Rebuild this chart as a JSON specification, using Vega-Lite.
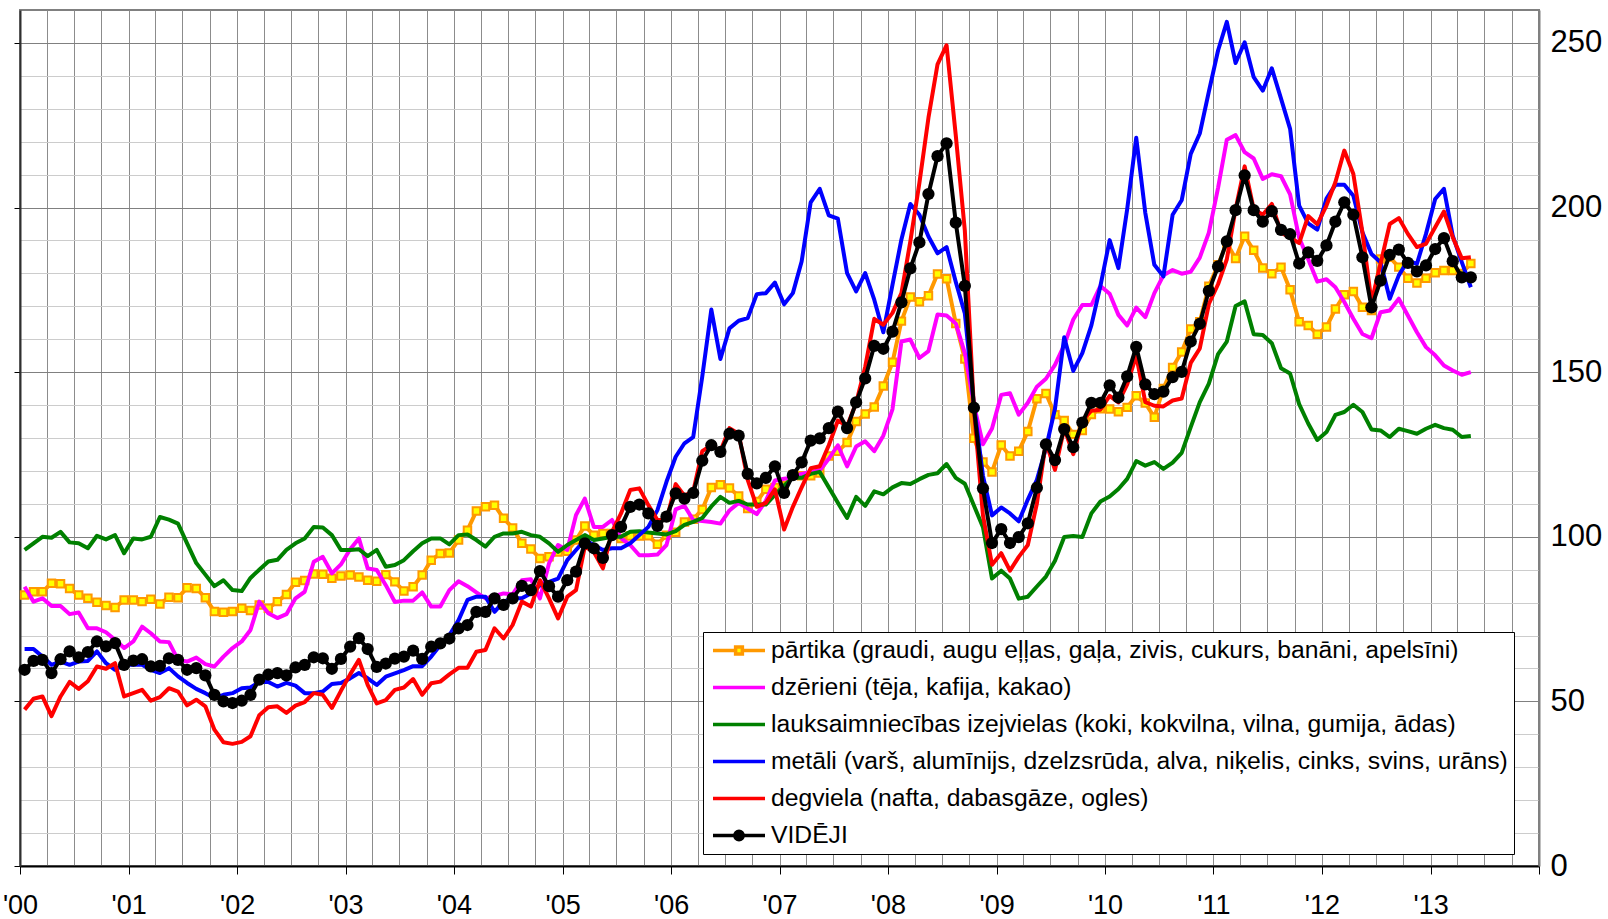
{
"$schema":"https://vega.github.io/schema/vega-lite/v6.json",
"width":1519,"height":856,
"autosize":{"type":"none"},
"padding":{"left":20,"top":10,"right":69,"bottom":53},
"background":"white",
"config":{"view":{"stroke":"#808080","strokeWidth":2},"font":"Liberation Sans"},
"data":{"values":[
{"t":"2000-01","k":"p","v":82.3},{"t":"2000-02","k":"p","v":83.3},{"t":"2000-03","k":"p","v":83.3},{"t":"2000-04","k":"p","v":85.9},{"t":"2000-05","k":"p","v":85.7},{"t":"2000-06","k":"p","v":84.3},{"t":"2000-07","k":"p","v":82.3},{"t":"2000-08","k":"p","v":81.3},{"t":"2000-09","k":"p","v":80.1},{"t":"2000-10","k":"p","v":79.1},{"t":"2000-11","k":"p","v":78.5},{"t":"2000-12","k":"p","v":80.8},
{"t":"2001-01","k":"p","v":80.8},{"t":"2001-02","k":"p","v":80.3},{"t":"2001-03","k":"p","v":81},{"t":"2001-04","k":"p","v":79.6},{"t":"2001-05","k":"p","v":81.6},{"t":"2001-06","k":"p","v":81.5},{"t":"2001-07","k":"p","v":84.5},{"t":"2001-08","k":"p","v":84.3},{"t":"2001-09","k":"p","v":81.5},{"t":"2001-10","k":"p","v":77.3},{"t":"2001-11","k":"p","v":77.1},{"t":"2001-12","k":"p","v":77.3},
{"t":"2002-01","k":"p","v":78.3},{"t":"2002-02","k":"p","v":77.6},{"t":"2002-03","k":"p","v":79.3},{"t":"2002-04","k":"p","v":78.3},{"t":"2002-05","k":"p","v":80.3},{"t":"2002-06","k":"p","v":82.5},{"t":"2002-07","k":"p","v":86.2},{"t":"2002-08","k":"p","v":86.7},{"t":"2002-09","k":"p","v":88.7},{"t":"2002-10","k":"p","v":88.6},{"t":"2002-11","k":"p","v":87.4},{"t":"2002-12","k":"p","v":88.1},
{"t":"2003-01","k":"p","v":88.4},{"t":"2003-02","k":"p","v":87.8},{"t":"2003-03","k":"p","v":86.8},{"t":"2003-04","k":"p","v":86.5},{"t":"2003-05","k":"p","v":88.5},{"t":"2003-06","k":"p","v":86.3},{"t":"2003-07","k":"p","v":83.5},{"t":"2003-08","k":"p","v":84.8},{"t":"2003-09","k":"p","v":88.4},{"t":"2003-10","k":"p","v":92.9},{"t":"2003-11","k":"p","v":94.9},{"t":"2003-12","k":"p","v":95.1},
{"t":"2004-01","k":"p","v":99},{"t":"2004-02","k":"p","v":102},{"t":"2004-03","k":"p","v":107.8},{"t":"2004-04","k":"p","v":109.1},{"t":"2004-05","k":"p","v":109.6},{"t":"2004-06","k":"p","v":105.6},{"t":"2004-07","k":"p","v":102.7},{"t":"2004-08","k":"p","v":98},{"t":"2004-09","k":"p","v":96.3},{"t":"2004-10","k":"p","v":93.4},{"t":"2004-11","k":"p","v":93.9},{"t":"2004-12","k":"p","v":95.4},
{"t":"2005-01","k":"p","v":95.6},{"t":"2005-02","k":"p","v":99},{"t":"2005-03","k":"p","v":103.3},{"t":"2005-04","k":"p","v":100.5},{"t":"2005-05","k":"p","v":101},{"t":"2005-06","k":"p","v":101},{"t":"2005-07","k":"p","v":99.5},{"t":"2005-08","k":"p","v":100.2},{"t":"2005-09","k":"p","v":100.2},{"t":"2005-10","k":"p","v":100.3},{"t":"2005-11","k":"p","v":97.7},{"t":"2005-12","k":"p","v":100.5},
{"t":"2006-01","k":"p","v":101.4},{"t":"2006-02","k":"p","v":104.5},{"t":"2006-03","k":"p","v":105.3},{"t":"2006-04","k":"p","v":108.3},{"t":"2006-05","k":"p","v":115},{"t":"2006-06","k":"p","v":115.8},{"t":"2006-07","k":"p","v":114.8},{"t":"2006-08","k":"p","v":112.4},{"t":"2006-09","k":"p","v":108.6},{"t":"2006-10","k":"p","v":110.7},{"t":"2006-11","k":"p","v":114.4},{"t":"2006-12","k":"p","v":115},
{"t":"2007-01","k":"p","v":115.6},{"t":"2007-02","k":"p","v":118.7},{"t":"2007-03","k":"p","v":118.5},{"t":"2007-04","k":"p","v":118.5},{"t":"2007-05","k":"p","v":119.4},{"t":"2007-06","k":"p","v":124.5},{"t":"2007-07","k":"p","v":126},{"t":"2007-08","k":"p","v":128.6},{"t":"2007-09","k":"p","v":135},{"t":"2007-10","k":"p","v":137.3},{"t":"2007-11","k":"p","v":139.4},{"t":"2007-12","k":"p","v":145.8},
{"t":"2008-01","k":"p","v":153},{"t":"2008-02","k":"p","v":165.5},{"t":"2008-03","k":"p","v":172.8},{"t":"2008-04","k":"p","v":171.4},{"t":"2008-05","k":"p","v":173.2},{"t":"2008-06","k":"p","v":179.8},{"t":"2008-07","k":"p","v":178.4},{"t":"2008-08","k":"p","v":164.8},{"t":"2008-09","k":"p","v":154},{"t":"2008-10","k":"p","v":129.9},{"t":"2008-11","k":"p","v":122.7},{"t":"2008-12","k":"p","v":119.7},
{"t":"2009-01","k":"p","v":127.9},{"t":"2009-02","k":"p","v":124.5},{"t":"2009-03","k":"p","v":126},{"t":"2009-04","k":"p","v":132},{"t":"2009-05","k":"p","v":141.9},{"t":"2009-06","k":"p","v":143.5},{"t":"2009-07","k":"p","v":137.1},{"t":"2009-08","k":"p","v":135.3},{"t":"2009-09","k":"p","v":131.1},{"t":"2009-10","k":"p","v":132.3},{"t":"2009-11","k":"p","v":137.1},{"t":"2009-12","k":"p","v":138.9},
{"t":"2010-01","k":"p","v":138.8},{"t":"2010-02","k":"p","v":138},{"t":"2010-03","k":"p","v":139.3},{"t":"2010-04","k":"p","v":142.8},{"t":"2010-05","k":"p","v":140.6},{"t":"2010-06","k":"p","v":136.3},{"t":"2010-07","k":"p","v":145},{"t":"2010-08","k":"p","v":151.4},{"t":"2010-09","k":"p","v":156.1},{"t":"2010-10","k":"p","v":163.1},{"t":"2010-11","k":"p","v":165.3},{"t":"2010-12","k":"p","v":176.1},
{"t":"2011-01","k":"p","v":182.6},{"t":"2011-02","k":"p","v":189.2},{"t":"2011-03","k":"p","v":184.5},{"t":"2011-04","k":"p","v":191.3},{"t":"2011-05","k":"p","v":187},{"t":"2011-06","k":"p","v":181.6},{"t":"2011-07","k":"p","v":179.9},{"t":"2011-08","k":"p","v":181.9},{"t":"2011-09","k":"p","v":175},{"t":"2011-10","k":"p","v":165.3},{"t":"2011-11","k":"p","v":164.2},{"t":"2011-12","k":"p","v":161.5},
{"t":"2012-01","k":"p","v":163.7},{"t":"2012-02","k":"p","v":169.2},{"t":"2012-03","k":"p","v":173.5},{"t":"2012-04","k":"p","v":174.5},{"t":"2012-05","k":"p","v":169.7},{"t":"2012-06","k":"p","v":168.7},{"t":"2012-07","k":"p","v":184.4},{"t":"2012-08","k":"p","v":184.9},{"t":"2012-09","k":"p","v":181.9},{"t":"2012-10","k":"p","v":178.5},{"t":"2012-11","k":"p","v":177.1},{"t":"2012-12","k":"p","v":178.5},
{"t":"2013-01","k":"p","v":180.2},{"t":"2013-02","k":"p","v":180.9},{"t":"2013-03","k":"p","v":180.9},{"t":"2013-04","k":"p","v":180},{"t":"2013-05","k":"p","v":183},
{"t":"2000-01","k":"dz","v":84.8},{"t":"2000-02","k":"dz","v":80.3},{"t":"2000-03","k":"dz","v":81.3},{"t":"2000-04","k":"dz","v":79},{"t":"2000-05","k":"dz","v":79},{"t":"2000-06","k":"dz","v":76.5},{"t":"2000-07","k":"dz","v":77},{"t":"2000-08","k":"dz","v":72.2},{"t":"2000-09","k":"dz","v":72.2},{"t":"2000-10","k":"dz","v":71},{"t":"2000-11","k":"dz","v":68.7},{"t":"2000-12","k":"dz","v":66.2},
{"t":"2001-01","k":"dz","v":68.2},{"t":"2001-02","k":"dz","v":72.7},{"t":"2001-03","k":"dz","v":70.7},{"t":"2001-04","k":"dz","v":68.2},{"t":"2001-05","k":"dz","v":68},{"t":"2001-06","k":"dz","v":62.6},{"t":"2001-07","k":"dz","v":62.1},{"t":"2001-08","k":"dz","v":63.3},{"t":"2001-09","k":"dz","v":61.3},{"t":"2001-10","k":"dz","v":60.6},{"t":"2001-11","k":"dz","v":63.6},{"t":"2001-12","k":"dz","v":66.2},
{"t":"2002-01","k":"dz","v":68.2},{"t":"2002-02","k":"dz","v":71.7},{"t":"2002-03","k":"dz","v":80.3},{"t":"2002-04","k":"dz","v":76.8},{"t":"2002-05","k":"dz","v":75.3},{"t":"2002-06","k":"dz","v":76.5},{"t":"2002-07","k":"dz","v":81.3},{"t":"2002-08","k":"dz","v":83.3},{"t":"2002-09","k":"dz","v":92.4},{"t":"2002-10","k":"dz","v":93.9},{"t":"2002-11","k":"dz","v":88.9},{"t":"2002-12","k":"dz","v":91.6},
{"t":"2003-01","k":"dz","v":96.2},{"t":"2003-02","k":"dz","v":99.5},{"t":"2003-03","k":"dz","v":90.4},{"t":"2003-04","k":"dz","v":89.9},{"t":"2003-05","k":"dz","v":85.3},{"t":"2003-06","k":"dz","v":80.2},{"t":"2003-07","k":"dz","v":80.6},{"t":"2003-08","k":"dz","v":80.6},{"t":"2003-09","k":"dz","v":83.1},{"t":"2003-10","k":"dz","v":78.8},{"t":"2003-11","k":"dz","v":78.8},{"t":"2003-12","k":"dz","v":83.8},
{"t":"2004-01","k":"dz","v":86.5},{"t":"2004-02","k":"dz","v":85},{"t":"2004-03","k":"dz","v":83.1},{"t":"2004-04","k":"dz","v":81.3},{"t":"2004-05","k":"dz","v":82},{"t":"2004-06","k":"dz","v":82.8},{"t":"2004-07","k":"dz","v":82.5},{"t":"2004-08","k":"dz","v":86.8},{"t":"2004-09","k":"dz","v":87.1},{"t":"2004-10","k":"dz","v":81.3},{"t":"2004-11","k":"dz","v":91.9},{"t":"2004-12","k":"dz","v":97.5},
{"t":"2005-01","k":"dz","v":96},{"t":"2005-02","k":"dz","v":106.6},{"t":"2005-03","k":"dz","v":111.6},{"t":"2005-04","k":"dz","v":103},{"t":"2005-05","k":"dz","v":103},{"t":"2005-06","k":"dz","v":105.1},{"t":"2005-07","k":"dz","v":99.5},{"t":"2005-08","k":"dz","v":97.5},{"t":"2005-09","k":"dz","v":94.4},{"t":"2005-10","k":"dz","v":94.4},{"t":"2005-11","k":"dz","v":94.6},{"t":"2005-12","k":"dz","v":97.5},
{"t":"2006-01","k":"dz","v":108.3},{"t":"2006-02","k":"dz","v":109.4},{"t":"2006-03","k":"dz","v":105.1},{"t":"2006-04","k":"dz","v":104.8},{"t":"2006-05","k":"dz","v":104.5},{"t":"2006-06","k":"dz","v":104},{"t":"2006-07","k":"dz","v":108},{"t":"2006-08","k":"dz","v":110.3},{"t":"2006-09","k":"dz","v":108.6},{"t":"2006-10","k":"dz","v":106.9},{"t":"2006-11","k":"dz","v":110.9},{"t":"2006-12","k":"dz","v":117.1},
{"t":"2007-01","k":"dz","v":117.6},{"t":"2007-02","k":"dz","v":117.9},{"t":"2007-03","k":"dz","v":119.1},{"t":"2007-04","k":"dz","v":119.7},{"t":"2007-05","k":"dz","v":120.2},{"t":"2007-06","k":"dz","v":123.7},{"t":"2007-07","k":"dz","v":127.8},{"t":"2007-08","k":"dz","v":121.4},{"t":"2007-09","k":"dz","v":127.4},{"t":"2007-10","k":"dz","v":129},{"t":"2007-11","k":"dz","v":126},{"t":"2007-12","k":"dz","v":130.7},
{"t":"2008-01","k":"dz","v":138.8},{"t":"2008-02","k":"dz","v":159.3},{"t":"2008-03","k":"dz","v":159.9},{"t":"2008-04","k":"dz","v":154.3},{"t":"2008-05","k":"dz","v":156.4},{"t":"2008-06","k":"dz","v":167.5},{"t":"2008-07","k":"dz","v":167.2},{"t":"2008-08","k":"dz","v":164.8},{"t":"2008-09","k":"dz","v":155.8},{"t":"2008-10","k":"dz","v":140.1},{"t":"2008-11","k":"dz","v":128.1},{"t":"2008-12","k":"dz","v":132.9},
{"t":"2009-01","k":"dz","v":143.1},{"t":"2009-02","k":"dz","v":143.6},{"t":"2009-03","k":"dz","v":137.1},{"t":"2009-04","k":"dz","v":140.7},{"t":"2009-05","k":"dz","v":145.6},{"t":"2009-06","k":"dz","v":148},{"t":"2009-07","k":"dz","v":152.2},{"t":"2009-08","k":"dz","v":158.2},{"t":"2009-09","k":"dz","v":166},{"t":"2009-10","k":"dz","v":170.4},{"t":"2009-11","k":"dz","v":170.4},{"t":"2009-12","k":"dz","v":176.2},
{"t":"2010-01","k":"dz","v":173.8},{"t":"2010-02","k":"dz","v":167.4},{"t":"2010-03","k":"dz","v":164.2},{"t":"2010-04","k":"dz","v":169.6},{"t":"2010-05","k":"dz","v":166.7},{"t":"2010-06","k":"dz","v":174},{"t":"2010-07","k":"dz","v":179.4},{"t":"2010-08","k":"dz","v":181},{"t":"2010-09","k":"dz","v":179.9},{"t":"2010-10","k":"dz","v":180.5},{"t":"2010-11","k":"dz","v":184.8},{"t":"2010-12","k":"dz","v":192.4},
{"t":"2011-01","k":"dz","v":206},{"t":"2011-02","k":"dz","v":220.6},{"t":"2011-03","k":"dz","v":222},{"t":"2011-04","k":"dz","v":216.8},{"t":"2011-05","k":"dz","v":214.9},{"t":"2011-06","k":"dz","v":208.7},{"t":"2011-07","k":"dz","v":210.1},{"t":"2011-08","k":"dz","v":209.5},{"t":"2011-09","k":"dz","v":204},{"t":"2011-10","k":"dz","v":190.8},{"t":"2011-11","k":"dz","v":184.3},{"t":"2011-12","k":"dz","v":177.5},
{"t":"2012-01","k":"dz","v":178.2},{"t":"2012-02","k":"dz","v":175.8},{"t":"2012-03","k":"dz","v":171.3},{"t":"2012-04","k":"dz","v":166.2},{"t":"2012-05","k":"dz","v":161.6},{"t":"2012-06","k":"dz","v":160.3},{"t":"2012-07","k":"dz","v":168.2},{"t":"2012-08","k":"dz","v":168.7},{"t":"2012-09","k":"dz","v":172.3},{"t":"2012-10","k":"dz","v":167.2},{"t":"2012-11","k":"dz","v":162.1},{"t":"2012-12","k":"dz","v":157.6},
{"t":"2013-01","k":"dz","v":155.1},{"t":"2013-02","k":"dz","v":152},{"t":"2013-03","k":"dz","v":150.5},{"t":"2013-04","k":"dz","v":149.2},{"t":"2013-05","k":"dz","v":150},
{"t":"2000-01","k":"l","v":96},{"t":"2000-02","k":"l","v":98},{"t":"2000-03","k":"l","v":100},{"t":"2000-04","k":"l","v":99.7},{"t":"2000-05","k":"l","v":101.5},{"t":"2000-06","k":"l","v":98.3},{"t":"2000-07","k":"l","v":98},{"t":"2000-08","k":"l","v":96.5},{"t":"2000-09","k":"l","v":100.3},{"t":"2000-10","k":"l","v":99.2},{"t":"2000-11","k":"l","v":100.5},{"t":"2000-12","k":"l","v":95},
{"t":"2001-01","k":"l","v":99.5},{"t":"2001-02","k":"l","v":99.2},{"t":"2001-03","k":"l","v":100},{"t":"2001-04","k":"l","v":106},{"t":"2001-05","k":"l","v":105.2},{"t":"2001-06","k":"l","v":104},{"t":"2001-07","k":"l","v":98},{"t":"2001-08","k":"l","v":92},{"t":"2001-09","k":"l","v":88.5},{"t":"2001-10","k":"l","v":85},{"t":"2001-11","k":"l","v":86.8},{"t":"2001-12","k":"l","v":83.8},
{"t":"2002-01","k":"l","v":83.5},{"t":"2002-02","k":"l","v":87.5},{"t":"2002-03","k":"l","v":90},{"t":"2002-04","k":"l","v":92.5},{"t":"2002-05","k":"l","v":93},{"t":"2002-06","k":"l","v":96},{"t":"2002-07","k":"l","v":98},{"t":"2002-08","k":"l","v":99.5},{"t":"2002-09","k":"l","v":103},{"t":"2002-10","k":"l","v":102.8},{"t":"2002-11","k":"l","v":100.5},{"t":"2002-12","k":"l","v":96},
{"t":"2003-01","k":"l","v":96},{"t":"2003-02","k":"l","v":96.2},{"t":"2003-03","k":"l","v":94.1},{"t":"2003-04","k":"l","v":96},{"t":"2003-05","k":"l","v":90.9},{"t":"2003-06","k":"l","v":91.4},{"t":"2003-07","k":"l","v":92.9},{"t":"2003-08","k":"l","v":95.6},{"t":"2003-09","k":"l","v":98},{"t":"2003-10","k":"l","v":99.5},{"t":"2003-11","k":"l","v":99.5},{"t":"2003-12","k":"l","v":97.7},
{"t":"2004-01","k":"l","v":100.5},{"t":"2004-02","k":"l","v":100.7},{"t":"2004-03","k":"l","v":99},{"t":"2004-04","k":"l","v":97},{"t":"2004-05","k":"l","v":100},{"t":"2004-06","k":"l","v":101},{"t":"2004-07","k":"l","v":101},{"t":"2004-08","k":"l","v":101.5},{"t":"2004-09","k":"l","v":100.5},{"t":"2004-10","k":"l","v":100},{"t":"2004-11","k":"l","v":98},{"t":"2004-12","k":"l","v":95.4},
{"t":"2005-01","k":"l","v":97.5},{"t":"2005-02","k":"l","v":99},{"t":"2005-03","k":"l","v":100.5},{"t":"2005-04","k":"l","v":99},{"t":"2005-05","k":"l","v":99.5},{"t":"2005-06","k":"l","v":100},{"t":"2005-07","k":"l","v":100},{"t":"2005-08","k":"l","v":101.5},{"t":"2005-09","k":"l","v":101.7},{"t":"2005-10","k":"l","v":101.3},{"t":"2005-11","k":"l","v":101},{"t":"2005-12","k":"l","v":100.7},
{"t":"2006-01","k":"l","v":101.7},{"t":"2006-02","k":"l","v":103.6},{"t":"2006-03","k":"l","v":104.5},{"t":"2006-04","k":"l","v":105.7},{"t":"2006-05","k":"l","v":109.2},{"t":"2006-06","k":"l","v":112.1},{"t":"2006-07","k":"l","v":110.3},{"t":"2006-08","k":"l","v":110.9},{"t":"2006-09","k":"l","v":109.8},{"t":"2006-10","k":"l","v":109.8},{"t":"2006-11","k":"l","v":109.8},{"t":"2006-12","k":"l","v":112.7},
{"t":"2007-01","k":"l","v":115.6},{"t":"2007-02","k":"l","v":117.9},{"t":"2007-03","k":"l","v":117.9},{"t":"2007-04","k":"l","v":119.1},{"t":"2007-05","k":"l","v":119.7},{"t":"2007-06","k":"l","v":115},{"t":"2007-07","k":"l","v":110.3},{"t":"2007-08","k":"l","v":105.7},{"t":"2007-09","k":"l","v":112.1},{"t":"2007-10","k":"l","v":109.4},{"t":"2007-11","k":"l","v":113.8},{"t":"2007-12","k":"l","v":112.9},
{"t":"2008-01","k":"l","v":115},{"t":"2008-02","k":"l","v":116.3},{"t":"2008-03","k":"l","v":116},{"t":"2008-04","k":"l","v":117.5},{"t":"2008-05","k":"l","v":118.8},{"t":"2008-06","k":"l","v":119.3},{"t":"2008-07","k":"l","v":122.1},{"t":"2008-08","k":"l","v":117.9},{"t":"2008-09","k":"l","v":116.1},{"t":"2008-10","k":"l","v":109.5},{"t":"2008-11","k":"l","v":102.9},{"t":"2008-12","k":"l","v":87.3},
{"t":"2009-01","k":"l","v":89.7},{"t":"2009-02","k":"l","v":87.3},{"t":"2009-03","k":"l","v":81.2},{"t":"2009-04","k":"l","v":81.8},{"t":"2009-05","k":"l","v":84.9},{"t":"2009-06","k":"l","v":87.9},{"t":"2009-07","k":"l","v":92.7},{"t":"2009-08","k":"l","v":99.9},{"t":"2009-09","k":"l","v":100.2},{"t":"2009-10","k":"l","v":99.9},{"t":"2009-11","k":"l","v":107.1},{"t":"2009-12","k":"l","v":110.7},
{"t":"2010-01","k":"l","v":112.2},{"t":"2010-02","k":"l","v":114.5},{"t":"2010-03","k":"l","v":117.6},{"t":"2010-04","k":"l","v":123},{"t":"2010-05","k":"l","v":121.6},{"t":"2010-06","k":"l","v":122.7},{"t":"2010-07","k":"l","v":120.6},{"t":"2010-08","k":"l","v":122.5},{"t":"2010-09","k":"l","v":125.5},{"t":"2010-10","k":"l","v":133.3},{"t":"2010-11","k":"l","v":140.9},{"t":"2010-12","k":"l","v":146.5},
{"t":"2011-01","k":"l","v":155.5},{"t":"2011-02","k":"l","v":159.3},{"t":"2011-03","k":"l","v":170.1},{"t":"2011-04","k":"l","v":171.5},{"t":"2011-05","k":"l","v":161.5},{"t":"2011-06","k":"l","v":161.3},{"t":"2011-07","k":"l","v":158.8},{"t":"2011-08","k":"l","v":151.2},{"t":"2011-09","k":"l","v":149.6},{"t":"2011-10","k":"l","v":140.3},{"t":"2011-11","k":"l","v":134.4},{"t":"2011-12","k":"l","v":129.4},
{"t":"2012-01","k":"l","v":131.8},{"t":"2012-02","k":"l","v":137},{"t":"2012-03","k":"l","v":137.9},{"t":"2012-04","k":"l","v":140.1},{"t":"2012-05","k":"l","v":137.9},{"t":"2012-06","k":"l","v":132.6},{"t":"2012-07","k":"l","v":132.3},{"t":"2012-08","k":"l","v":130.3},{"t":"2012-09","k":"l","v":132.8},{"t":"2012-10","k":"l","v":132.1},{"t":"2012-11","k":"l","v":131.3},{"t":"2012-12","k":"l","v":132.8},
{"t":"2013-01","k":"l","v":134},{"t":"2013-02","k":"l","v":133},{"t":"2013-03","k":"l","v":132.5},{"t":"2013-04","k":"l","v":130.3},{"t":"2013-05","k":"l","v":130.6},
{"t":"2000-01","k":"m","v":65.9},{"t":"2000-02","k":"m","v":65.9},{"t":"2000-03","k":"m","v":63.6},{"t":"2000-04","k":"m","v":61.1},{"t":"2000-05","k":"m","v":62.1},{"t":"2000-06","k":"m","v":61.1},{"t":"2000-07","k":"m","v":62.1},{"t":"2000-08","k":"m","v":62.3},{"t":"2000-09","k":"m","v":65.2},{"t":"2000-10","k":"m","v":61.6},{"t":"2000-11","k":"m","v":59.6},{"t":"2000-12","k":"m","v":61.1},
{"t":"2001-01","k":"m","v":61.1},{"t":"2001-02","k":"m","v":61.1},{"t":"2001-03","k":"m","v":59.6},{"t":"2001-04","k":"m","v":58.6},{"t":"2001-05","k":"m","v":60.1},{"t":"2001-06","k":"m","v":57.6},{"t":"2001-07","k":"m","v":55.6},{"t":"2001-08","k":"m","v":53.8},{"t":"2001-09","k":"m","v":52.5},{"t":"2001-10","k":"m","v":51},{"t":"2001-11","k":"m","v":52},{"t":"2001-12","k":"m","v":52.5},
{"t":"2002-01","k":"m","v":54},{"t":"2002-02","k":"m","v":54.2},{"t":"2002-03","k":"m","v":55.9},{"t":"2002-04","k":"m","v":55.9},{"t":"2002-05","k":"m","v":54.5},{"t":"2002-06","k":"m","v":55.6},{"t":"2002-07","k":"m","v":54.8},{"t":"2002-08","k":"m","v":52.5},{"t":"2002-09","k":"m","v":52.5},{"t":"2002-10","k":"m","v":53},{"t":"2002-11","k":"m","v":55.3},{"t":"2002-12","k":"m","v":55.6},
{"t":"2003-01","k":"m","v":57},{"t":"2003-02","k":"m","v":58.6},{"t":"2003-03","k":"m","v":57},{"t":"2003-04","k":"m","v":55},{"t":"2003-05","k":"m","v":57.5},{"t":"2003-06","k":"m","v":58.5},{"t":"2003-07","k":"m","v":59.5},{"t":"2003-08","k":"m","v":60.7},{"t":"2003-09","k":"m","v":60.7},{"t":"2003-10","k":"m","v":63.6},{"t":"2003-11","k":"m","v":67.1},{"t":"2003-12","k":"m","v":70.1},
{"t":"2004-01","k":"m","v":74.7},{"t":"2004-02","k":"m","v":80.8},{"t":"2004-03","k":"m","v":81.8},{"t":"2004-04","k":"m","v":81.8},{"t":"2004-05","k":"m","v":77.2},{"t":"2004-06","k":"m","v":80.3},{"t":"2004-07","k":"m","v":81.3},{"t":"2004-08","k":"m","v":81.3},{"t":"2004-09","k":"m","v":82.8},{"t":"2004-10","k":"m","v":85.3},{"t":"2004-11","k":"m","v":86.3},{"t":"2004-12","k":"m","v":87.3},
{"t":"2005-01","k":"m","v":92.9},{"t":"2005-02","k":"m","v":96},{"t":"2005-03","k":"m","v":99},{"t":"2005-04","k":"m","v":97.5},{"t":"2005-05","k":"m","v":96},{"t":"2005-06","k":"m","v":96.5},{"t":"2005-07","k":"m","v":96.5},{"t":"2005-08","k":"m","v":98},{"t":"2005-09","k":"m","v":100.5},{"t":"2005-10","k":"m","v":103},{"t":"2005-11","k":"m","v":108.1},{"t":"2005-12","k":"m","v":116.7},
{"t":"2006-01","k":"m","v":124.3},{"t":"2006-02","k":"m","v":128.4},{"t":"2006-03","k":"m","v":130.3},{"t":"2006-04","k":"m","v":148.7},{"t":"2006-05","k":"m","v":169},{"t":"2006-06","k":"m","v":154},{"t":"2006-07","k":"m","v":163.3},{"t":"2006-08","k":"m","v":165.6},{"t":"2006-09","k":"m","v":166.4},{"t":"2006-10","k":"m","v":173.7},{"t":"2006-11","k":"m","v":174},{"t":"2006-12","k":"m","v":177.2},
{"t":"2007-01","k":"m","v":170.6},{"t":"2007-02","k":"m","v":174},{"t":"2007-03","k":"m","v":183.6},{"t":"2007-04","k":"m","v":201.6},{"t":"2007-05","k":"m","v":205.7},{"t":"2007-06","k":"m","v":197.6},{"t":"2007-07","k":"m","v":196.6},{"t":"2007-08","k":"m","v":180.1},{"t":"2007-09","k":"m","v":174.5},{"t":"2007-10","k":"m","v":180.1},{"t":"2007-11","k":"m","v":172},{"t":"2007-12","k":"m","v":162.1},
{"t":"2008-01","k":"m","v":176.6},{"t":"2008-02","k":"m","v":190.3},{"t":"2008-03","k":"m","v":201.1},{"t":"2008-04","k":"m","v":197.8},{"t":"2008-05","k":"m","v":191.2},{"t":"2008-06","k":"m","v":186.1},{"t":"2008-07","k":"m","v":188},{"t":"2008-08","k":"m","v":177.4},{"t":"2008-09","k":"m","v":167.8},{"t":"2008-10","k":"m","v":140.1},{"t":"2008-11","k":"m","v":118.5},{"t":"2008-12","k":"m","v":106.5},
{"t":"2009-01","k":"m","v":108.9},{"t":"2009-02","k":"m","v":107.1},{"t":"2009-03","k":"m","v":104.7},{"t":"2009-04","k":"m","v":111.3},{"t":"2009-05","k":"m","v":117.3},{"t":"2009-06","k":"m","v":126.9},{"t":"2009-07","k":"m","v":138.9},{"t":"2009-08","k":"m","v":160.6},{"t":"2009-09","k":"m","v":150.4},{"t":"2009-10","k":"m","v":155.8},{"t":"2009-11","k":"m","v":164.2},{"t":"2009-12","k":"m","v":176.2},
{"t":"2010-01","k":"m","v":190.1},{"t":"2010-02","k":"m","v":181.6},{"t":"2010-03","k":"m","v":199.5},{"t":"2010-04","k":"m","v":221.2},{"t":"2010-05","k":"m","v":198.4},{"t":"2010-06","k":"m","v":182.6},{"t":"2010-07","k":"m","v":179.1},{"t":"2010-08","k":"m","v":197.8},{"t":"2010-09","k":"m","v":202.2},{"t":"2010-10","k":"m","v":216.3},{"t":"2010-11","k":"m","v":222.5},{"t":"2010-12","k":"m","v":235.2},
{"t":"2011-01","k":"m","v":247.7},{"t":"2011-02","k":"m","v":256.4},{"t":"2011-03","k":"m","v":243.9},{"t":"2011-04","k":"m","v":250.2},{"t":"2011-05","k":"m","v":239.6},{"t":"2011-06","k":"m","v":235.5},{"t":"2011-07","k":"m","v":242.3},{"t":"2011-08","k":"m","v":233.1},{"t":"2011-09","k":"m","v":223.9},{"t":"2011-10","k":"m","v":200.6},{"t":"2011-11","k":"m","v":195.2},{"t":"2011-12","k":"m","v":193.3},
{"t":"2012-01","k":"m","v":202.7},{"t":"2012-02","k":"m","v":206.9},{"t":"2012-03","k":"m","v":206.9},{"t":"2012-04","k":"m","v":203.6},{"t":"2012-05","k":"m","v":192.5},{"t":"2012-06","k":"m","v":185.9},{"t":"2012-07","k":"m","v":183.4},{"t":"2012-08","k":"m","v":172.3},{"t":"2012-09","k":"m","v":179.4},{"t":"2012-10","k":"m","v":183.9},{"t":"2012-11","k":"m","v":182.9},{"t":"2012-12","k":"m","v":192},
{"t":"2013-01","k":"m","v":202.6},{"t":"2013-02","k":"m","v":205.7},{"t":"2013-03","k":"m","v":191.5},{"t":"2013-04","k":"m","v":183.4},{"t":"2013-05","k":"m","v":175.8},
{"t":"2000-01","k":"d","v":47.5},{"t":"2000-02","k":"d","v":50.8},{"t":"2000-03","k":"d","v":51.5},{"t":"2000-04","k":"d","v":45.5},{"t":"2000-05","k":"d","v":51.5},{"t":"2000-06","k":"d","v":55.9},{"t":"2000-07","k":"d","v":53.8},{"t":"2000-08","k":"d","v":56.1},{"t":"2000-09","k":"d","v":60.6},{"t":"2000-10","k":"d","v":59.9},{"t":"2000-11","k":"d","v":61.6},{"t":"2000-12","k":"d","v":51.5},
{"t":"2001-01","k":"d","v":52.5},{"t":"2001-02","k":"d","v":53.5},{"t":"2001-03","k":"d","v":50.2},{"t":"2001-04","k":"d","v":51.3},{"t":"2001-05","k":"d","v":54},{"t":"2001-06","k":"d","v":53},{"t":"2001-07","k":"d","v":48.8},{"t":"2001-08","k":"d","v":50.5},{"t":"2001-09","k":"d","v":48.5},{"t":"2001-10","k":"d","v":41.4},{"t":"2001-11","k":"d","v":37.6},{"t":"2001-12","k":"d","v":37.1},
{"t":"2002-01","k":"d","v":37.7},{"t":"2002-02","k":"d","v":39.4},{"t":"2002-03","k":"d","v":45.8},{"t":"2002-04","k":"d","v":48.2},{"t":"2002-05","k":"d","v":48.5},{"t":"2002-06","k":"d","v":46.5},{"t":"2002-07","k":"d","v":48.7},{"t":"2002-08","k":"d","v":49.8},{"t":"2002-09","k":"d","v":52.5},{"t":"2002-10","k":"d","v":52},{"t":"2002-11","k":"d","v":48},{"t":"2002-12","k":"d","v":53.2},
{"t":"2003-01","k":"d","v":58.2},{"t":"2003-02","k":"d","v":62.6},{"t":"2003-03","k":"d","v":55},{"t":"2003-04","k":"d","v":49.4},{"t":"2003-05","k":"d","v":50.4},{"t":"2003-06","k":"d","v":53.5},{"t":"2003-07","k":"d","v":54.2},{"t":"2003-08","k":"d","v":56.8},{"t":"2003-09","k":"d","v":52},{"t":"2003-10","k":"d","v":55.5},{"t":"2003-11","k":"d","v":56},{"t":"2003-12","k":"d","v":58.2},
{"t":"2004-01","k":"d","v":60.2},{"t":"2004-02","k":"d","v":60.2},{"t":"2004-03","k":"d","v":65.1},{"t":"2004-04","k":"d","v":65.6},{"t":"2004-05","k":"d","v":72.2},{"t":"2004-06","k":"d","v":69.1},{"t":"2004-07","k":"d","v":73.2},{"t":"2004-08","k":"d","v":80.3},{"t":"2004-09","k":"d","v":78.8},{"t":"2004-10","k":"d","v":86.8},{"t":"2004-11","k":"d","v":81.3},{"t":"2004-12","k":"d","v":75.2},
{"t":"2005-01","k":"d","v":81.8},{"t":"2005-02","k":"d","v":83.8},{"t":"2005-03","k":"d","v":97},{"t":"2005-04","k":"d","v":95.4},{"t":"2005-05","k":"d","v":90.4},{"t":"2005-06","k":"d","v":101.5},{"t":"2005-07","k":"d","v":107.1},{"t":"2005-08","k":"d","v":114.2},{"t":"2005-09","k":"d","v":114.7},{"t":"2005-10","k":"d","v":109.6},{"t":"2005-11","k":"d","v":105.1},{"t":"2005-12","k":"d","v":105.1},
{"t":"2006-01","k":"d","v":116},{"t":"2006-02","k":"d","v":112.5},{"t":"2006-03","k":"d","v":113.8},{"t":"2006-04","k":"d","v":126},{"t":"2006-05","k":"d","v":127.8},{"t":"2006-06","k":"d","v":126},{"t":"2006-07","k":"d","v":133},{"t":"2006-08","k":"d","v":131.3},{"t":"2006-09","k":"d","v":117.3},{"t":"2006-10","k":"d","v":109.1},{"t":"2006-11","k":"d","v":110.3},{"t":"2006-12","k":"d","v":114.4},
{"t":"2007-01","k":"d","v":102.2},{"t":"2007-02","k":"d","v":109.1},{"t":"2007-03","k":"d","v":115},{"t":"2007-04","k":"d","v":120.8},{"t":"2007-05","k":"d","v":121.4},{"t":"2007-06","k":"d","v":127.8},{"t":"2007-07","k":"d","v":135.3},{"t":"2007-08","k":"d","v":133.6},{"t":"2007-09","k":"d","v":140.6},{"t":"2007-10","k":"d","v":151.6},{"t":"2007-11","k":"d","v":166.2},{"t":"2007-12","k":"d","v":164.4},
{"t":"2008-01","k":"d","v":168},{"t":"2008-02","k":"d","v":174},{"t":"2008-03","k":"d","v":189.7},{"t":"2008-04","k":"d","v":207.5},{"t":"2008-05","k":"d","v":227.3},{"t":"2008-06","k":"d","v":243.5},{"t":"2008-07","k":"d","v":249.3},{"t":"2008-08","k":"d","v":221.9},{"t":"2008-09","k":"d","v":193},{"t":"2008-10","k":"d","v":138.9},{"t":"2008-11","k":"d","v":106.5},{"t":"2008-12","k":"d","v":91.5},
{"t":"2009-01","k":"d","v":95},{"t":"2009-02","k":"d","v":89.7},{"t":"2009-03","k":"d","v":93.9},{"t":"2009-04","k":"d","v":97.5},{"t":"2009-05","k":"d","v":110.1},{"t":"2009-06","k":"d","v":128.7},{"t":"2009-07","k":"d","v":120.3},{"t":"2009-08","k":"d","v":132.9},{"t":"2009-09","k":"d","v":125.1},{"t":"2009-10","k":"d","v":135.3},{"t":"2009-11","k":"d","v":138.3},{"t":"2009-12","k":"d","v":138.6},
{"t":"2010-01","k":"d","v":142.8},{"t":"2010-02","k":"d","v":140.8},{"t":"2010-03","k":"d","v":146.3},{"t":"2010-04","k":"d","v":155},{"t":"2010-05","k":"d","v":140.9},{"t":"2010-06","k":"d","v":139.8},{"t":"2010-07","k":"d","v":139.6},{"t":"2010-08","k":"d","v":141.4},{"t":"2010-09","k":"d","v":142},{"t":"2010-10","k":"d","v":152.8},{"t":"2010-11","k":"d","v":157.2},{"t":"2010-12","k":"d","v":170.7},
{"t":"2011-01","k":"d","v":176.7},{"t":"2011-02","k":"d","v":184.3},{"t":"2011-03","k":"d","v":199.5},{"t":"2011-04","k":"d","v":212.5},{"t":"2011-05","k":"d","v":199.5},{"t":"2011-06","k":"d","v":197.8},{"t":"2011-07","k":"d","v":201.1},{"t":"2011-08","k":"d","v":192.4},{"t":"2011-09","k":"d","v":190.8},{"t":"2011-10","k":"d","v":189.2},{"t":"2011-11","k":"d","v":197.4},{"t":"2011-12","k":"d","v":194.9},
{"t":"2012-01","k":"d","v":200.6},{"t":"2012-02","k":"d","v":207.7},{"t":"2012-03","k":"d","v":217.3},{"t":"2012-04","k":"d","v":210.2},{"t":"2012-05","k":"d","v":192.5},{"t":"2012-06","k":"d","v":171.3},{"t":"2012-07","k":"d","v":182.9},{"t":"2012-08","k":"d","v":195},{"t":"2012-09","k":"d","v":196.8},{"t":"2012-10","k":"d","v":192},{"t":"2012-11","k":"d","v":188},{"t":"2012-12","k":"d","v":189},
{"t":"2013-01","k":"d","v":194},{"t":"2013-02","k":"d","v":198.8},{"t":"2013-03","k":"d","v":191},{"t":"2013-04","k":"d","v":184.6},{"t":"2013-05","k":"d","v":184.9},
{"t":"2000-01","k":"v","v":59.6},{"t":"2000-02","k":"v","v":62.3},{"t":"2000-03","k":"v","v":62.6},{"t":"2000-04","k":"v","v":58.6},{"t":"2000-05","k":"v","v":62.8},{"t":"2000-06","k":"v","v":65.2},{"t":"2000-07","k":"v","v":63.4},{"t":"2000-08","k":"v","v":65},{"t":"2000-09","k":"v","v":68.2},{"t":"2000-10","k":"v","v":66.7},{"t":"2000-11","k":"v","v":67.7},{"t":"2000-12","k":"v","v":61.1},
{"t":"2001-01","k":"v","v":62.4},{"t":"2001-02","k":"v","v":62.8},{"t":"2001-03","k":"v","v":60.6},{"t":"2001-04","k":"v","v":60.8},{"t":"2001-05","k":"v","v":63.1},{"t":"2001-06","k":"v","v":62.6},{"t":"2001-07","k":"v","v":59.6},{"t":"2001-08","k":"v","v":60.1},{"t":"2001-09","k":"v","v":57.9},{"t":"2001-10","k":"v","v":52},{"t":"2001-11","k":"v","v":50},{"t":"2001-12","k":"v","v":49.5},
{"t":"2002-01","k":"v","v":50.2},{"t":"2002-02","k":"v","v":52},{"t":"2002-03","k":"v","v":56.6},{"t":"2002-04","k":"v","v":58.1},{"t":"2002-05","k":"v","v":58.6},{"t":"2002-06","k":"v","v":57.9},{"t":"2002-07","k":"v","v":60.3},{"t":"2002-08","k":"v","v":61.1},{"t":"2002-09","k":"v","v":63.4},{"t":"2002-10","k":"v","v":63.1},{"t":"2002-11","k":"v","v":59.9},{"t":"2002-12","k":"v","v":62.9},
{"t":"2003-01","k":"v","v":66.6},{"t":"2003-02","k":"v","v":69.2},{"t":"2003-03","k":"v","v":65.9},{"t":"2003-04","k":"v","v":60.5},{"t":"2003-05","k":"v","v":61.5},{"t":"2003-06","k":"v","v":63},{"t":"2003-07","k":"v","v":63.6},{"t":"2003-08","k":"v","v":65.4},{"t":"2003-09","k":"v","v":62.9},{"t":"2003-10","k":"v","v":66.6},{"t":"2003-11","k":"v","v":67.6},{"t":"2003-12","k":"v","v":69.1},
{"t":"2004-01","k":"v","v":72.2},{"t":"2004-02","k":"v","v":73.2},{"t":"2004-03","k":"v","v":77.2},{"t":"2004-04","k":"v","v":77.2},{"t":"2004-05","k":"v","v":81.3},{"t":"2004-06","k":"v","v":79.3},{"t":"2004-07","k":"v","v":81.3},{"t":"2004-08","k":"v","v":85.1},{"t":"2004-09","k":"v","v":83.8},{"t":"2004-10","k":"v","v":89.6},{"t":"2004-11","k":"v","v":85},{"t":"2004-12","k":"v","v":81.8},
{"t":"2005-01","k":"v","v":86.8},{"t":"2005-02","k":"v","v":89.4},{"t":"2005-03","k":"v","v":98},{"t":"2005-04","k":"v","v":96.5},{"t":"2005-05","k":"v","v":93.6},{"t":"2005-06","k":"v","v":100.5},{"t":"2005-07","k":"v","v":103},{"t":"2005-08","k":"v","v":109.1},{"t":"2005-09","k":"v","v":109.8},{"t":"2005-10","k":"v","v":107.1},{"t":"2005-11","k":"v","v":103.3},{"t":"2005-12","k":"v","v":106.1},
{"t":"2006-01","k":"v","v":113.2},{"t":"2006-02","k":"v","v":111.6},{"t":"2006-03","k":"v","v":113.3},{"t":"2006-04","k":"v","v":123.1},{"t":"2006-05","k":"v","v":127.8},{"t":"2006-06","k":"v","v":125.8},{"t":"2006-07","k":"v","v":131.3},{"t":"2006-08","k":"v","v":130.7},{"t":"2006-09","k":"v","v":119.1},{"t":"2006-10","k":"v","v":116.2},{"t":"2006-11","k":"v","v":117.9},{"t":"2006-12","k":"v","v":121.4},
{"t":"2007-01","k":"v","v":113.3},{"t":"2007-02","k":"v","v":118.7},{"t":"2007-03","k":"v","v":122.6},{"t":"2007-04","k":"v","v":129.2},{"t":"2007-05","k":"v","v":129.9},{"t":"2007-06","k":"v","v":133},{"t":"2007-07","k":"v","v":138},{"t":"2007-08","k":"v","v":133},{"t":"2007-09","k":"v","v":140.8},{"t":"2007-10","k":"v","v":148.1},{"t":"2007-11","k":"v","v":158},{"t":"2007-12","k":"v","v":157.1},
{"t":"2008-01","k":"v","v":162.3},{"t":"2008-02","k":"v","v":171.2},{"t":"2008-03","k":"v","v":181.5},{"t":"2008-04","k":"v","v":189.4},{"t":"2008-05","k":"v","v":204.1},{"t":"2008-06","k":"v","v":215.6},{"t":"2008-07","k":"v","v":219.5},{"t":"2008-08","k":"v","v":195.4},{"t":"2008-09","k":"v","v":176.2},{"t":"2008-10","k":"v","v":139.2},{"t":"2008-11","k":"v","v":114.7},{"t":"2008-12","k":"v","v":98.1},
{"t":"2009-01","k":"v","v":102.3},{"t":"2009-02","k":"v","v":98.1},{"t":"2009-03","k":"v","v":99.9},{"t":"2009-04","k":"v","v":104.1},{"t":"2009-05","k":"v","v":114.9},{"t":"2009-06","k":"v","v":128.1},{"t":"2009-07","k":"v","v":123.3},{"t":"2009-08","k":"v","v":132.7},{"t":"2009-09","k":"v","v":127.2},{"t":"2009-10","k":"v","v":134.7},{"t":"2009-11","k":"v","v":140.7},{"t":"2009-12","k":"v","v":140.7},
{"t":"2010-01","k":"v","v":146},{"t":"2010-02","k":"v","v":142.3},{"t":"2010-03","k":"v","v":148.7},{"t":"2010-04","k":"v","v":157.7},{"t":"2010-05","k":"v","v":146.3},{"t":"2010-06","k":"v","v":143.3},{"t":"2010-07","k":"v","v":144.1},{"t":"2010-08","k":"v","v":148.5},{"t":"2010-09","k":"v","v":150.1},{"t":"2010-10","k":"v","v":159.3},{"t":"2010-11","k":"v","v":164.7},{"t":"2010-12","k":"v","v":174.7},
{"t":"2011-01","k":"v","v":182.1},{"t":"2011-02","k":"v","v":189.7},{"t":"2011-03","k":"v","v":199.2},{"t":"2011-04","k":"v","v":209.8},{"t":"2011-05","k":"v","v":199.2},{"t":"2011-06","k":"v","v":195.7},{"t":"2011-07","k":"v","v":198.9},{"t":"2011-08","k":"v","v":193.2},{"t":"2011-09","k":"v","v":191.9},{"t":"2011-10","k":"v","v":183},{"t":"2011-11","k":"v","v":186.4},{"t":"2011-12","k":"v","v":183.8},
{"t":"2012-01","k":"v","v":188.5},{"t":"2012-02","k":"v","v":195.7},{"t":"2012-03","k":"v","v":201.6},{"t":"2012-04","k":"v","v":197.8},{"t":"2012-05","k":"v","v":184.9},{"t":"2012-06","k":"v","v":169.7},{"t":"2012-07","k":"v","v":177.8},{"t":"2012-08","k":"v","v":185.6},{"t":"2012-09","k":"v","v":187.2},{"t":"2012-10","k":"v","v":183.2},{"t":"2012-11","k":"v","v":180.6},{"t":"2012-12","k":"v","v":182.4},
{"t":"2013-01","k":"v","v":187.4},{"t":"2013-02","k":"v","v":190.7},{"t":"2013-03","k":"v","v":183.7},{"t":"2013-04","k":"v","v":178.8},{"t":"2013-05","k":"v","v":178.8}
]},
"encoding":{
 "x":{"field":"t","timeUnit":"yearmonth","type":"temporal","bandPosition":0.5,
  "scale":{"domain":[{"year":2000,"month":1,"date":1},{"year":2014,"month":1,"date":1}],"nice":false},
  "axis":{"orient":"bottom","title":null,"tickCount":{"interval":"month","step":3},
   "grid":true,"gridColor":"#8c8c8c","gridWidth":1,"gridOpacity":1,
   "domainColor":"#000000","domainWidth":2,
   "ticks":true,"tickColor":"#000000","tickWidth":1,"tickSize":8,
   "tickOpacity":{"condition":{"test":"month(datum.value) !== 0","value":0},"value":1},
   "labelExpr":"month(datum.value) === 0 && year(datum.value) < 2014 ? \"'\" + timeFormat(datum.value, '%y') : ''",
   "labelFont":"Liberation Sans","labelFontSize":27,"labelColor":"#000000","labelPadding":18,
   "labelFlush":false,"labelOverlap":false,"labelBound":false}},
 "y":{"field":"v","type":"quantitative","scale":{"domain":[0,260],"nice":false},"axis":null},
 "color":{"field":"k","type":"nominal","scale":{"domain":["p","dz","l","m","d","v"],"range":["#FF9900","#FF00FF","#008000","#0000FF","#FF0000","#000000"]},
  "legend":{"orient":"none","legendX":683,"legendY":622,"title":null,
     "labelExpr":"datum.value === 'p' ? 'pārtika (graudi, augu eļļas, gaļa, zivis, cukurs, banāni, apelsīni)' : datum.value === 'dz' ? 'dzērieni (tēja, kafija, kakao)' : datum.value === 'l' ? 'lauksaimniecības izejvielas (koki, kokvilna, vilna, gumija, ādas)' : datum.value === 'm' ? 'metāli (varš, alumīnijs, dzelzsrūda, alva, niķelis, cinks, svins, urāns)' : datum.value === 'd' ? 'degviela (nafta, dabasgāze, ogles)' : 'VIDĒJI'",
     "labelFont":"Liberation Sans","labelFontSize":24.7,"labelColor":"#000000","labelLimit":2000,"labelOffset":4,
     "symbolSize":2704,"symbolStrokeWidth":3.5,"symbolOpacity":1,"symbolOffset":2,"symbolType":"stroke",
     "clipHeight":25,"rowPadding":11,"padding":6,
     "strokeColor":"#000000","fillColor":"#ffffff",
     "encode":{"symbols":{"update":{
      "shape":{"signal":"datum.value === 'p' ? 'M-1,0H-0.13M0.13,0H1M-0.13,-0.13H0.13V0.13H-0.13Z' : datum.value === 'v' ? 'M-1,0H1M-0.16,0A0.16,0.16 0 1,0 0.16,0A0.16,0.16 0 1,0 -0.16,0Z' : 'M-1,0H1'"},
      "size":{"value":2704},
      "fill":{"signal":"datum.value === 'p' ? '#FFFF00' : (datum.value === 'v' ? '#000000' : 'transparent')"},
      "stroke":{"signal":"datum.value === 'p' ? '#FF9900' : datum.value === 'dz' ? '#FF00FF' : datum.value === 'l' ? '#008000' : datum.value === 'm' ? '#0000FF' : datum.value === 'd' ? '#FF0000' : '#000000'"},
      "strokeWidth":{"value":3.5},"opacity":{"value":1}}}}}}
},
"layer":[
 {"transform":[{"filter":"datum.k === 'p'"}],
  "mark":{"type":"line","strokeWidth":4,"strokeJoin":"round"},
  "encoding":{"y":{"field":"v","type":"quantitative","scale":{"domain":[0,260],"nice":false},
   "axis":{"orient":"right","title":null,"values":[0,10,20,30,40,50,60,70,80,90,100,110,120,130,140,150,160,170,180,190,200,210,220,230,240,250],
    "grid":true,"gridColor":{"condition":{"test":"datum.value % 50 === 0","value":"#808080"},"value":"#cccccc"},"gridWidth":1,"gridOpacity":1,
    "ticks":false,"domainColor":"#808080","domainWidth":2,
    "labelExpr":"datum.value % 50 === 0 ? datum.label : ''",
    "labelFont":"Liberation Sans","labelFontSize":31,"labelColor":"#000000","labelPadding":11,"labelFlush":false,"labelOverlap":false,"labelBound":false}}}},
 {"transform":[{"filter":"datum.k === 'p'"}],
  "mark":{"type":"point","shape":"square","filled":true,"size":56,"strokeWidth":2,"opacity":1},
  "encoding":{"fill":{"value":"#FFFF00"},"stroke":{"value":"#FF9900"}}},
 {"transform":[{"filter":"datum.k === 'dz'"}],"mark":{"type":"line","strokeWidth":4,"strokeJoin":"round"},
  "encoding":{"y":{"field":"v","type":"quantitative","scale":{"domain":[0,260],"nice":false},
    "axis":{"orient":"left","title":null,"values":[0,50,100,150,200,250],"grid":false,"labels":false,
     "ticks":true,"tickSize":6,"tickColor":"#000000","tickWidth":1,"domainColor":"#303030","domainWidth":2}}}},
 {"transform":[{"filter":"datum.k === 'l'"}],"mark":{"type":"line","strokeWidth":4,"strokeJoin":"round"}},
 {"transform":[{"filter":"datum.k === 'm'"}],"mark":{"type":"line","strokeWidth":4,"strokeJoin":"round"}},
 {"transform":[{"filter":"datum.k === 'd'"}],"mark":{"type":"line","strokeWidth":4,"strokeJoin":"round"}},
 {"transform":[{"filter":"datum.k === 'v'"}],"mark":{"type":"line","strokeWidth":4,"strokeJoin":"round"}},
 {"transform":[{"filter":"datum.k === 'v'"}],
  "mark":{"type":"point","shape":"circle","filled":true,"size":150,"strokeWidth":0,"opacity":1},
  "encoding":{"fill":{"value":"#000000"}}}
],
"resolve":{"axis":{"y":"independent"}}
}
